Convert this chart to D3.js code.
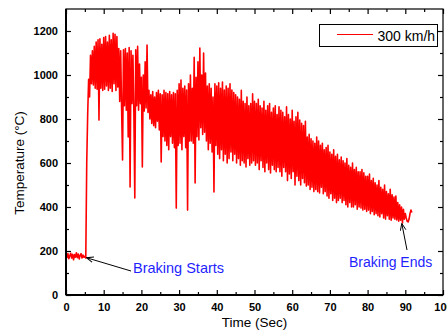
<!DOCTYPE html>
<html>
<head>
<meta charset="utf-8">
<script src="https://cdn.jsdelivr.net/npm/d3@7"></script>
<style>
  body { margin: 0; background: #fff; }
  svg { display: block; font-family: "Liberation Sans", Arial, sans-serif; }
</style>
</head>
<body>
<div id="chart"></div>
<script>
// temperature samples, one every 0.25 s (each row = one second)
const sampleStep = 0.25;
const temps = [
  182,170,188,165, 178,190,168,185, 160,184,172,192, 170,186,164,180,
  188,168,182,172, 176,168,600,820, 980,900,1090,960, 1110,955,1130,940,
  1150,935,1160,795, 1165,940,1140,930, 1170,935,1175,950, 1150,930,1180,940,
  1160,925,1190,960, 1185,930,1175,945, 1120,880,1110,850, 614,1115,860,1120,
  840,1100,718,1125, 491,1110,870,1090, 830,441,1115,860, 1130,840,1050,870,
  990,582,1000,836, 1060,850,1136,830, 930,800,910,780, 925,770,900,760,
  920,790,930,750, 915,605,910,720, 930,700,920,680, 915,660,925,720,
  910,690,920,670, 915,395,930,680, 960,690,977,660, 940,720,950,670,
  932,386,960,700, 1000,700,940,690, 1080,509,990,720, 1060,705,1123,760,
  1000,730,1100,740, 1009,700,950,660, 960,690,940,650, 900,468,960,680,
  950,640,965,620, 940,660,968,610, 932,640,950,600, 940,620,960,650,
  932,610,920,640, 910,600,900,620, 890,590,930,610, 880,600,870,582,
  900,620,860,590, 870,600,914,610, 880,590,870,600, 890,570,860,610,
  850,580,880,560, 840,600,860,570, 870,555,830,590, 850,570,860,560,
  820,580,855,560, 840,540,830,580, 810,560,855,520, 820,550,800,530,
  840,560,790,500, 810,540,830,520, 795,500,780,530, 770,510,790,495,
  718,500,730,480, 710,490,700,470, 690,480,718,470, 700,464,680,490,
  690,460,660,470, 670,450,680,440, 650,460,640,430, 660,440,630,420,
  640,430,614,440, 627,420,610,430, 600,410,620,400, 590,420,580,400,
  600,400,570,410, 580,390,560,400, 560,395,570,386, 555,390,540,380,
  540,386,550,370, 520,380,530,365, 510,370,500,360, 520,355,490,370,
  480,350,500,345, 470,360,460,345, 480,340,455,350, 445,345,450,341,
  420,335,410,340, 400,327,390,345, 370,350,335,332, 345,370,386,375
];

const xTicks = [0, 10, 20, 30, 40, 50, 60, 70, 80, 90, 100];
const yTicks = [0, 200, 400, 600, 800, 1000, 1200];
const seriesName = "300 km/h";
const notes = [
  { label: "Braking Starts", t: 5.6, v: 164 },
  { label: "Braking Ends", t: 89.1, v: 327 }
];

const W = 447, H = 331;
const margin = { top: 9, right: 4, bottom: 36, left: 66 };
const width = W - margin.left - margin.right;
const height = H - margin.top - margin.bottom;

const svg = d3.select("#chart").append("svg")
  .attr("width", W)
  .attr("height", H);

svg.append("defs").append("marker")
  .attr("id", "arrow")
  .attr("viewBox", "0 0 10 10")
  .attr("refX", 9).attr("refY", 5)
  .attr("markerWidth", 7).attr("markerHeight", 7)
  .attr("orient", "auto-start-reverse")
  .append("path")
  .attr("d", "M0,1 L10,5 L0,9")
  .attr("fill", "none")
  .attr("stroke", "#000")
  .attr("stroke-width", 1.3);

const g = svg.append("g")
  .attr("transform", "translate(" + margin.left + "," + margin.top + ")");

const x = d3.scaleLinear().domain([0, 100]).range([0, width]);
const y = d3.scaleLinear().domain([0, 1300]).range([height, 0]);

const data = temps.map((v, i) => ({ t: i * sampleStep, v: v }));

// line
g.append("path")
  .datum(data)
  .attr("fill", "none")
  .attr("stroke", "#ff0000")
  .attr("stroke-width", 1.6)
  .attr("stroke-linejoin", "round")
  .attr("d", d3.line().x(d => x(d.t)).y(d => y(d.v)));

// axes (ticks point inward)
const minorX = d3.range(5, 100, 10);
const minorY = d3.range(100, 1300, 200);

function tickStyle(sel) {
  sel.select(".domain").remove();
  sel.selectAll("line").attr("stroke", "#000").attr("stroke-width", 1.2);
}

const xAxis = g.append("g")
  .attr("transform", "translate(0," + height + ")")
  .call(d3.axisBottom(x).tickValues(xTicks).tickSize(-5).tickPadding(8).tickFormat(d3.format("d")));
xAxis.call(tickStyle);
xAxis.selectAll("text").attr("font-size", 11).attr("font-weight", "bold").attr("fill", "#000")
  .attr("font-family", "Liberation Sans, Arial, sans-serif");
g.append("g")
  .attr("transform", "translate(0," + height + ")")
  .call(d3.axisBottom(x).tickValues(minorX).tickSize(-3).tickFormat(""))
  .call(tickStyle);

const yAxis = g.append("g")
  .call(d3.axisLeft(y).tickValues(yTicks).tickSize(-5).tickPadding(8).tickFormat(d3.format("d")));
yAxis.call(tickStyle);
yAxis.selectAll("text").attr("font-size", 11).attr("font-weight", "bold").attr("fill", "#000")
  .attr("font-family", "Liberation Sans, Arial, sans-serif");
g.append("g")
  .call(d3.axisLeft(y).tickValues(minorY).tickSize(-3).tickFormat(""))
  .call(tickStyle);

// top and right mirror ticks
g.append("g")
  .call(d3.axisTop(x).tickValues(xTicks).tickSize(-5).tickFormat(""))
  .call(tickStyle);
g.append("g")
  .call(d3.axisTop(x).tickValues(minorX).tickSize(-3).tickFormat(""))
  .call(tickStyle);
g.append("g")
  .attr("transform", "translate(" + width + ",0)")
  .call(d3.axisRight(y).tickValues(yTicks).tickSize(-5).tickFormat(""))
  .call(tickStyle);
g.append("g")
  .attr("transform", "translate(" + width + ",0)")
  .call(d3.axisRight(y).tickValues(minorY).tickSize(-3).tickFormat(""))
  .call(tickStyle);

// frame
g.append("rect")
  .attr("width", width).attr("height", height)
  .attr("fill", "none").attr("stroke", "#000").attr("stroke-width", 1.2);
g.append("line").attr("x1", 0).attr("x2", 0).attr("y1", 0).attr("y2", height)
  .attr("stroke", "#000").attr("stroke-width", 2);
g.append("line").attr("x1", 0).attr("x2", width).attr("y1", height).attr("y2", height)
  .attr("stroke", "#000").attr("stroke-width", 2);

// axis titles
svg.append("text")
  .attr("x", margin.left + x(50)).attr("y", 327)
  .attr("text-anchor", "middle").attr("font-size", 13.5)
  .text("Time (Sec)");
svg.append("text")
  .attr("transform", "translate(24,163) rotate(-90)")
  .attr("text-anchor", "middle").attr("font-size", 13.5)
  .text("Temperature (\u00B0C)");

// legend
const leg = svg.append("g");
leg.append("rect")
  .attr("x", 319.5).attr("y", 24.5).attr("width", 118).attr("height", 22)
  .attr("fill", "#fff").attr("stroke", "#000").attr("stroke-width", 1);
leg.append("line")
  .attr("x1", 337).attr("x2", 373).attr("y1", 34.5).attr("y2", 34.5)
  .attr("stroke", "#ff0000").attr("stroke-width", 1);
leg.append("text")
  .attr("x", 377.5).attr("y", 40.5).attr("font-size", 14)
  .text(seriesName);

// annotations
const blue = "#1f1fff";
const sx = margin.left, sy = margin.top;
svg.append("line")
  .attr("x1", 131).attr("y1", 271)
  .attr("x2", sx + x(notes[0].t)).attr("y2", sy + y(notes[0].v) - 1)
  .attr("stroke", "#000").attr("stroke-width", 1)
  .attr("marker-end", "url(#arrow)");
svg.append("text")
  .attr("x", 133).attr("y", 273).attr("font-size", 14.5).attr("fill", blue)
  .text(notes[0].label);

svg.append("line")
  .attr("x1", 407).attr("y1", 250)
  .attr("x2", sx + x(notes[1].t)).attr("y2", sy + y(notes[1].v) + 1)
  .attr("stroke", "#000").attr("stroke-width", 1)
  .attr("marker-end", "url(#arrow)");
svg.append("text")
  .attr("x", 349).attr("y", 267).attr("font-size", 14).attr("fill", blue)
  .text(notes[1].label);
</script>
</body>
</html>
